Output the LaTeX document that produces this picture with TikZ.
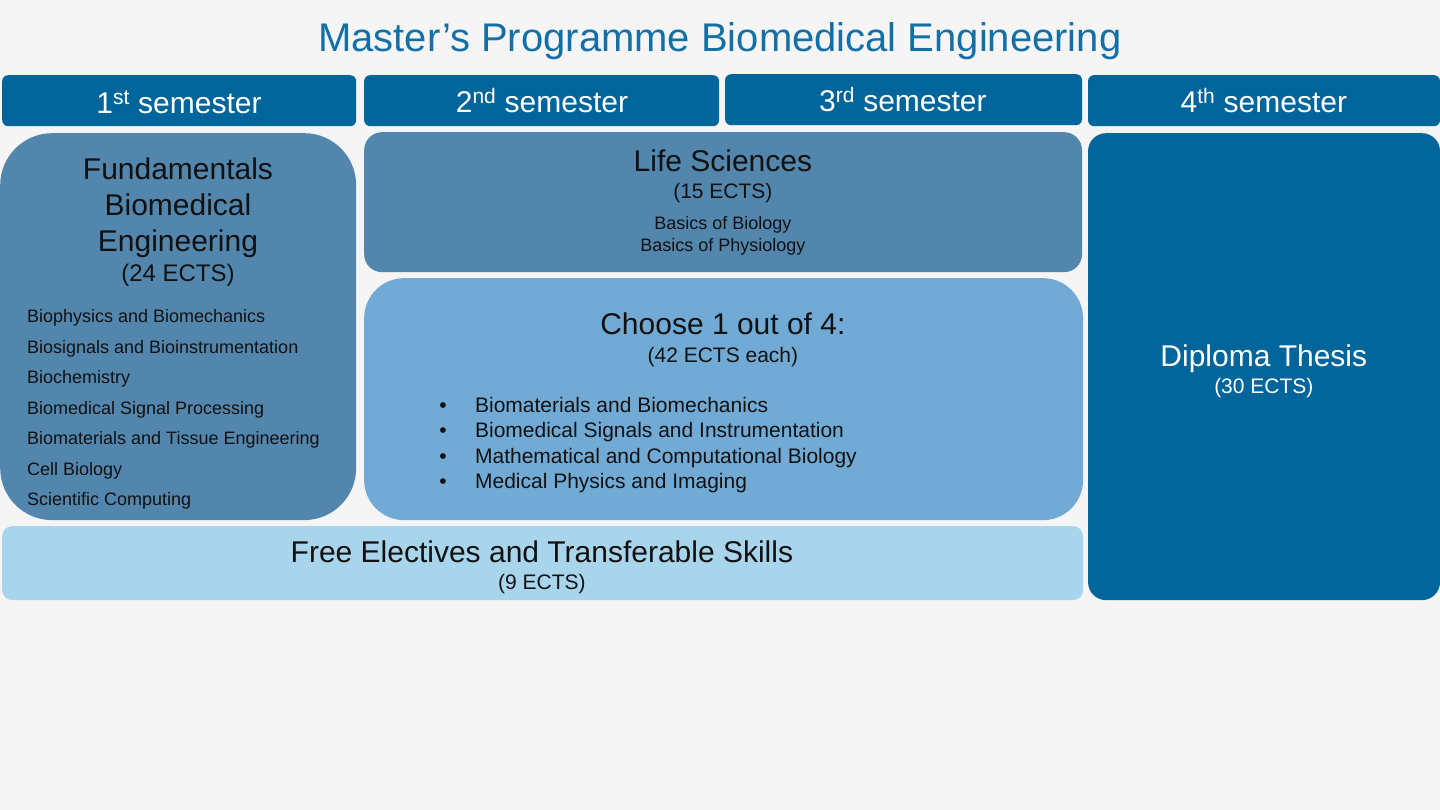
\documentclass[tikz,border=0pt]{standalone}
\usepackage{fontspec}
\setmainfont{Liberation Sans}
\usetikzlibrary{positioning}

\definecolor{pagebg}{HTML}{F5F5F5}
\definecolor{titleblue}{HTML}{1370A6}
\definecolor{headblue}{HTML}{00659A}
\definecolor{midblue}{HTML}{5386AD}
\definecolor{lightblue}{HTML}{71ABD5}
\definecolor{paleblue}{HTML}{A8D5EC}
\definecolor{inkblack}{HTML}{111111}

\newcommand{\ptsize}[1]{\fontsize{#1}{#1}\selectfont}

\begin{document}
\begin{tikzpicture}[
  x=1pt, y=-1pt,
  block/.style={inner sep=0pt, anchor=north west},
  semhead/.style={block, fill=headblue, rounded corners=6pt, minimum width=354pt, minimum height=51pt},
  headtext/.style={anchor=base, inner sep=0pt, text=white, font=\ptsize{30}},
  bigtext/.style={anchor=base, inner sep=0pt, text=inkblack, font=\ptsize{30}},
  ectstext/.style={anchor=base, inner sep=0pt, text=inkblack, font=\ptsize{21}},
  itemtext/.style={anchor=base west, inner sep=0pt, text=inkblack, font=\ptsize{18}},
  optiontext/.style={anchor=base west, inner sep=0pt, text=inkblack, font=\ptsize{21}}
]
  % page and title
  \fill[pagebg] (0,0) rectangle (1440,810);
  \node[anchor=base, inner sep=0pt, text=titleblue, font=\ptsize{40}] (title) at (720,52) {Master’s Programme Biomedical Engineering};

  % semester headers
  \node[semhead] (sem1) at (2,75) {};
  \node[semhead, minimum width=355pt] (sem2) at (364,75) {};
  \node[semhead, minimum width=357pt] (sem3) at (725,74) {};
  \node[semhead, minimum width=352pt] (sem4) at (1088,75) {};
  \node[headtext] (sem1t) at (179,113.5) {1\textsuperscript{st} semester};
  \node[headtext] (sem2t) at (542,112.5) {2\textsuperscript{nd} semester};
  \node[headtext] (sem3t) at (903,111.5) {3\textsuperscript{rd} semester};
  \node[headtext] (sem4t) at (1264,112.5) {4\textsuperscript{th} semester};

  % blocks
  \node[block, fill=midblue, rounded corners=52pt, minimum width=356pt, minimum height=387pt] (fund) at (0,133) {};
  \node[block, fill=midblue, rounded corners=18pt, minimum width=718pt, minimum height=140pt] (life) at (364,132) {};
  \node[block, fill=lightblue, rounded corners=40pt, minimum width=719pt, minimum height=242pt] (choose) at (364,278) {};
  \node[block, fill=headblue, rounded corners=18pt, minimum width=352pt, minimum height=467pt] (thesis) at (1088,133) {};
  \node[block, fill=paleblue, rounded corners=10pt, minimum width=1081pt, minimum height=74pt] (free) at (2,526) {};

  % fundamentals
  \node[bigtext] (fundt1) at (178,180) {Fundamentals};
  \node[bigtext] (fundt2) at (178,216) {Biomedical};
  \node[bigtext] (fundt3) at (178,252) {Engineering};
  \node[anchor=base, inner sep=0pt, text=inkblack, font=\ptsize{24}] (fundects) at (178,282) {(24 ECTS)};
  \node[itemtext] (fund1) at (27,323) {Biophysics and Biomechanics};
  \node[itemtext] (fund2) at (27,353.5) {Biosignals and Bioinstrumentation};
  \node[itemtext] (fund3) at (27,384) {Biochemistry};
  \node[itemtext] (fund4) at (27,414.5) {Biomedical Signal Processing};
  \node[itemtext] (fund5) at (27,445) {Biomaterials and Tissue Engineering};
  \node[itemtext] (fund6) at (27,475.5) {Cell Biology};
  \node[itemtext] (fund7) at (27,506) {Scientific Computing};

  % life sciences
  \node[bigtext] (lifet) at (723,172) {Life Sciences};
  \node[ectstext] (lifeects) at (723,199) {(15 ECTS)};
  \node[anchor=base, inner sep=0pt, text=inkblack, font=\ptsize{18}] (life1) at (723,230) {Basics of Biology};
  \node[anchor=base, inner sep=0pt, text=inkblack, font=\ptsize{18}] (life2) at (723,252) {Basics of Physiology};

  % specialisations
  \node[bigtext] (chooset) at (723,335) {Choose 1 out of 4:};
  \node[ectstext] (chooseects) at (723,363) {(42 ECTS each)};
  \node[optiontext] (opt1) at (475,413) {Biomaterials and Biomechanics};
  \node[optiontext] (opt2) at (475,438) {Biomedical Signals and Instrumentation};
  \node[optiontext] (opt3) at (475,464) {Mathematical and Computational Biology};
  \node[optiontext] (opt4) at (475,489) {Medical Physics and Imaging};
  \node[optiontext, anchor=base] (bul1) at (443,413) {•};
  \node[optiontext, anchor=base] (bul2) at (443,438) {•};
  \node[optiontext, anchor=base] (bul3) at (443,464) {•};
  \node[optiontext, anchor=base] (bul4) at (443,489) {•};

  % thesis
  \node[headtext] (thesist) at (1264,367) {Diploma Thesis};
  \node[anchor=base, inner sep=0pt, text=white, font=\ptsize{21}] (thesisects) at (1264,394) {(30 ECTS)};

  % electives
  \node[bigtext] (freet) at (542,563) {Free Electives and Transferable Skills};
  \node[ectstext] (freeects) at (542,590) {(9 ECTS)};
\end{tikzpicture}
\end{document}
